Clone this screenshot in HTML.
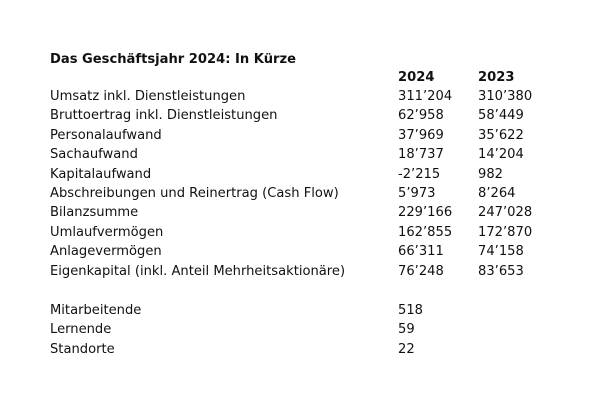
<!DOCTYPE html>
<html><head><meta charset="utf-8"><style>
body{margin:0;background:#fff;width:606px;height:402px;overflow:hidden;font-family:"DejaVu Sans","Liberation Sans",sans-serif;color:#111}
.t{position:absolute;white-space:nowrap;font-size:13.1px;line-height:16px}
.b{font-weight:bold}
</style></head><body>
<div id="tbl"></div>
<script>
const labels=["Umsatz inkl. Dienstleistungen","Bruttoertrag inkl. Dienstleistungen","Personalaufwand","Sachaufwand","Kapitalaufwand","Abschreibungen und Reinertrag (Cash Flow)","Bilanzsumme","Umlaufvermögen","Anlagevermögen","Eigenkapital (inkl. Anteil Mehrheitsaktionäre)"];
const v2024=["311’204","62’958","37’969","18’737","-2’215","5’973","229’166","162’855","66’311","76’248"];
const v2023=["310’380","58’449","35’622","14’204","982","8’264","247’028","172’870","74’158","83’653"];
const staffLabels=["Mitarbeitende","Lernende","Standorte"];
const staffValues=["518","59","22"];
const tbl=document.getElementById('tbl');
function add(txt,x,y,cls,name){const d=document.createElement('div');d.className='t '+(cls||'');d.style.left=x+'px';d.style.top=y+'px';d.textContent=txt;


tbl.appendChild(d);}
add("Das Geschäftsjahr 2024: In Kürze",50,52,'b','table-title');
add("2024",398,70,'b','header-2024');
add("2023",478,70,'b','header-2023');
labels.forEach((l,i)=>{const y=89+i*19.4;add(l,50,y,'','row-label');add(v2024[i],398,y,'','value-2024');add(v2023[i],478,y,'','value-2023');});
staffLabels.forEach((l,i)=>{const y=303+i*19.4;add(l,50,y,'','staff-label');add(staffValues[i],398,y,'','staff-value');});
</script>
</body></html>
